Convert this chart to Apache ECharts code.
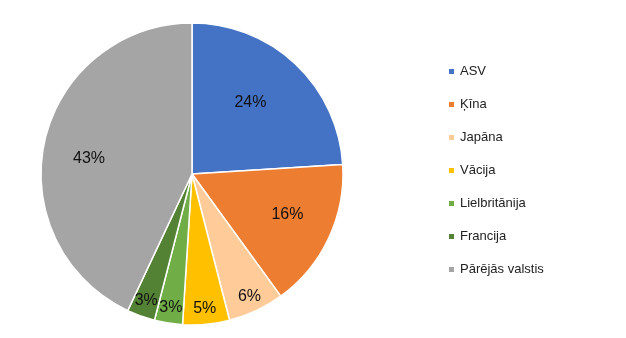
<!DOCTYPE html>
<html>
<head>
<meta charset="utf-8">
<script src="https://cdn.jsdelivr.net/npm/echarts@6/dist/echarts.min.js"></script>
<style>
  html, body { margin: 0; padding: 0; background: #fff; }
  #chart { width: 626px; height: 338px; }
</style>
</head>
<body>
<div id="chart"></div>
<script>
// Country shares (percent)
const countries = ['ASV', 'Ķīna', 'Japāna', 'Vācija', 'Lielbritānija', 'Francija', 'Pārējās valstis'];
const shares = [24, 16, 6, 5, 3, 3, 43];
const colors = ['#4472C4', '#ED7D31', '#FFCC99', '#FFC000', '#70AD47', '#548235', '#A5A5A5'];

const chart = echarts.init(document.getElementById('chart'), null, { renderer: 'canvas' });

const center = [192, 174];
const R = 151;

// Visible pie slices
const mainSeries = {
  type: 'pie',
  center: center,
  radius: [0, R],
  startAngle: 90,
  clockwise: true,
  silent: true,
  label: { show: false },
  labelLine: { show: false },
  itemStyle: { borderColor: '#fff', borderWidth: 1.5 },
  data: countries.map((name, i) => ({
    name: name, value: shares[i], itemStyle: { color: colors[i] }
  }))
};

// Small nudges for individual percentage labels
const labelNudge = {
  'ASV': [-9, 0],
  'Ķīna': [0, -4],
  'Pārējās valstis': [0, 8]
};

// Transparent ring used only to place the percentage labels at a given
// distance from the centre (inside labels sit at the ring's mid radius).
function labelRing(innerR, names) {
  return {
    type: 'pie',
    center: center,
    radius: [innerR, R],
    startAngle: 90,
    clockwise: true,
    silent: true,
    tooltip: { show: false },
    emphasis: { disabled: true },
    labelLine: { show: false },
    itemStyle: { color: 'rgba(0,0,0,0)', borderWidth: 0 },
    label: {
      position: 'inside',
      color: '#111',
      fontFamily: 'Liberation Sans',
      fontSize: 16,
      formatter: p => p.value + '%'
    },
    labelLayout: function (params) {
      const n = labelNudge[countries[params.dataIndex]];
      return n ? { dx: n[0], dy: n[1] } : {};
    },
    data: countries.map((name, i) => ({
      name: name, value: shares[i],
      label: { show: names.indexOf(name) >= 0 }
    }))
  };
}

chart.setOption({
  animation: false,
  legend: {
    orient: 'vertical',
    left: 442,
    top: 60,
    itemWidth: 7,
    itemHeight: 7,
    itemGap: 20,
    itemTextGap: 4,
    icon: 'rect',
    selectedMode: false,
    textStyle: { fontFamily: 'Liberation Sans', fontSize: 13, color: '#222' },
    data: countries
  },
  series: [
    mainSeries,
    labelRing(40, ['ASV']),
    labelRing(54, ['Ķīna', 'Pārējās valstis']),
    labelRing(113, ['Japāna', 'Vācija', 'Lielbritānija', 'Francija'])
  ]
});
</script>
</body>
</html>
